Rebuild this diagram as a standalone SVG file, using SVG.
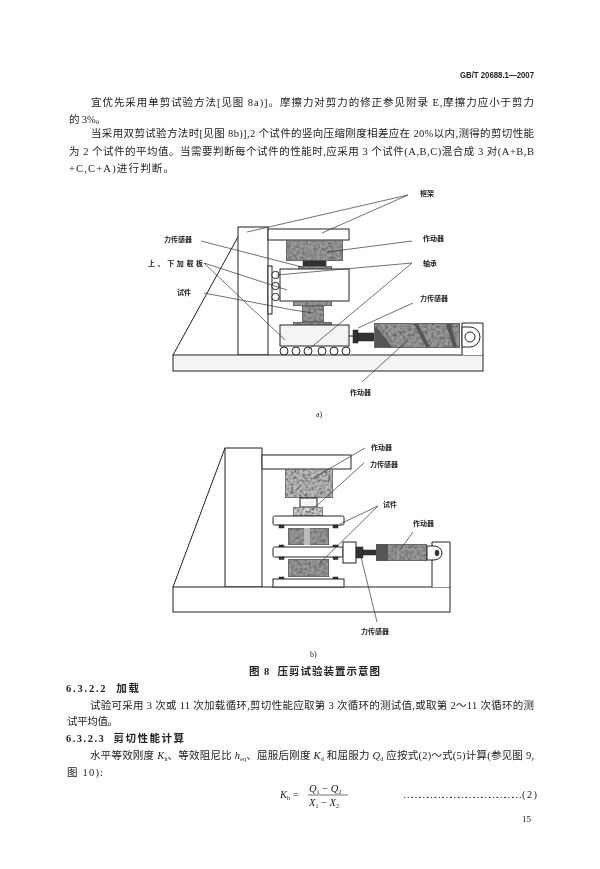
<svg xmlns="http://www.w3.org/2000/svg" width="600" height="869" viewBox="0 0 600 869">
<style>
text{font-family:"Liberation Serif","Noto Sans CJK SC",serif;fill:#222}
.b{font-size:10.5px}
.h{font-size:10.5px;font-weight:700}
.l{font-size:7px;font-weight:700;font-family:"Noto Sans CJK SC",sans-serif}
.s{fill:#fff;stroke:#222;stroke-width:1}
.p{fill:#f4f4f2;stroke:#222;stroke-width:1}
.d{fill:#9a9a9a;stroke:#222;stroke-width:.8;filter:url(#mottle)}
.k{fill:#333;stroke:#222;stroke-width:.5}
.t{fill:#555;stroke:none}
.c{fill:none;stroke:#333;stroke-width:.7}
.i{font-style:italic}
.u{font-size:6px}
.m{font-size:8px}
</style>
<defs>
<filter id="soft" x="0" y="0" width="100%" height="100%"><feGaussianBlur stdDeviation="0.3"/></filter>
<filter id="mottle" x="0" y="0" width="100%" height="100%">
<feTurbulence type="fractalNoise" baseFrequency="0.35" numOctaves="2" seed="4" result="n"/>
<feColorMatrix in="n" type="matrix" values="0 0 0 0 .15  0 0 0 0 .15  0 0 0 0 .15  2.600 0 0 0 -.95" result="g"/>
<feComposite in="g" in2="SourceAlpha" operator="in" result="h"/>
<feMerge><feMergeNode in="SourceGraphic"/><feMergeNode in="h"/></feMerge>
</filter>
</defs>
<rect width="600" height="869" fill="#fff"/>
<g filter="url(#soft)">
<g id="body-text">
<text class="h" x="460" y="78" textLength="74" lengthAdjust="spacingAndGlyphs" style="font-family:'Liberation Sans',sans-serif;font-size:9.5px">GB/T 20688.1—2007</text>
<text class="b" x="91" y="106" textLength="443">宜优先采用单剪试验方法[见图 8a)]。摩擦力对剪力的修正参见附录 E,摩擦力应小于剪力</text>
<text class="b" x="69" y="123" textLength="37">的 3%。</text>
<text class="b" x="91" y="137" textLength="443">当采用双剪试验方法时[见图 8b)],2 个试件的竖向压缩刚度相差应在 20%以内,测得的剪切性能</text>
<text class="b" x="69" y="155" textLength="465">为 2 个试件的平均值。当需要判断每个试件的性能时,应采用 3 个试件(A,B,C)混合成 3 对(A+B,B</text>
<text class="b" x="69" y="172" textLength="105">+C,C+A)进行判断。</text>
<text class="h" x="249" y="675" textLength="131" xml:space="preserve">图 8  压剪试验装置示意图</text>
<text class="h" x="66" y="692" textLength="73" xml:space="preserve">6.3.2.2  加载</text>
<text class="b" x="90" y="709" textLength="444">试验可采用 3 次或 11 次加载循环,剪切性能应取第 3 次循环的测试值,或取第 2～11 次循环的测</text>
<text class="b" x="67" y="725" textLength="51">试平均值。</text>
<text class="h" x="66" y="742" textLength="118" xml:space="preserve">6.3.2.3  剪切性能计算</text>
<text class="b" x="90" y="759" textLength="444">水平等效刚度 <tspan class="i">K</tspan><tspan class="u" dy="2">h</tspan><tspan dy="-2">、等效阻尼比 </tspan><tspan class="i">h</tspan><tspan class="u" dy="2">eq</tspan><tspan dy="-2">、屈服后刚度 </tspan><tspan class="i">K</tspan><tspan class="u" dy="2">d</tspan><tspan dy="-2"> 和屈服力 </tspan><tspan class="i">Q</tspan><tspan class="u" dy="2">d</tspan><tspan dy="-2"> 应按式(2)～式(5)计算(参见图 9,</tspan></text>
<text class="b" x="67" y="776" textLength="36">图 10):</text>
<text class="b" x="280" y="798"><tspan class="i">K</tspan><tspan class="u" dy="2">h</tspan><tspan dy="-2"> =</tspan></text>
<line x1="308" y1="795" x2="348" y2="795" stroke="#333" stroke-width=".7"/>
<text class="b" x="309" y="792"><tspan class="i">Q</tspan><tspan class="u" dy="2">1</tspan><tspan dy="-2"> − </tspan><tspan class="i">Q</tspan><tspan class="u" dy="2">2</tspan></text>
<text class="b" x="309" y="806"><tspan class="i">X</tspan><tspan class="u" dy="2">1</tspan><tspan dy="-2"> − </tspan><tspan class="i">X</tspan><tspan class="u" dy="2">2</tspan></text>
<text class="b" x="403" y="798" textLength="119">………………………………………</text>
<text class="b" x="522" y="798" textLength="15">( 2 )</text>
<text class="b" x="522" y="822" style="font-size:9px">15</text>
</g>

<g id="frame-a"><path class="s" d="M173 355L238.500 236"/><rect class="s" x="238" y="227" width="30" height="128"/><rect class="s" x="268" y="229" width="81" height="11"/></g>
<g id="base-a"><rect class="p" x="173" y="355" width="310" height="16"/></g>
<g id="vertical-actuator-a"><rect class="d" x="286" y="240" width="57" height="21"/></g>
<g id="sensor-a"><rect class="k" x="303" y="261" width="23" height="5"/><rect class="d" x="298" y="266" width="34" height="3.500"/></g>
<g id="upper-block-a"><rect class="s" x="280" y="269" width="69" height="32"/></g>
<g id="specimen-a"><rect class="d" x="293" y="301" width="39" height="5"/><rect class="d" x="302" y="306" width="22" height="16"/><rect class="d" x="293" y="322" width="39" height="3.500"/></g>
<g id="lower-block-a"><rect class="p" x="280" y="325" width="69" height="21"/></g>
<g id="side-bearing-a"><rect class="s" x="268" y="266" width="4" height="48"/><circle class="s" cx="275.500" cy="275" r="3.700"/><circle class="s" cx="275.500" cy="286" r="3.700"/><circle class="s" cx="275.500" cy="297" r="3.700"/></g>
<g id="bearing-a"><circle class="s" cx="284" cy="351" r="4"/><circle class="s" cx="296" cy="351" r="4"/><circle class="s" cx="308" cy="351" r="4"/><circle class="s" cx="322" cy="351" r="4"/><circle class="s" cx="334" cy="351" r="4"/><circle class="s" cx="346" cy="351" r="4"/></g>
<g id="horizontal-actuator-a"><line x1="349" y1="336" x2="353" y2="336" stroke="#222"/><rect class="k" x="353" y="330" width="5" height="13"/><rect class="k" x="358" y="333" width="16" height="8"/><rect class="d" x="374" y="323" width="86" height="25"/><path class="t" d="M376 326L392 347H375V328ZM414 324L418 324L430 347L426 347ZM446 324L451 324L457 347L453 347Z"/></g>
<g id="clevis-a"><path class="s" d="M462 355V323H483V355"/><path class="s" d="M462 327H470A10 10 0 0 1 470 347H462Z"/><circle class="s" cx="470" cy="337" r="5"/></g>

<g id="frame-b"><path class="s" d="M173 587L225 448"/><rect class="s" x="225" y="448" width="37" height="139"/><rect class="s" x="262" y="455" width="89" height="14"/></g>
<g id="base-b"><rect class="s" x="173" y="587" width="277" height="25"/></g>
<g id="vertical-actuator-b"><rect class="d" x="285" y="469" width="48" height="29" style="fill:#bcbcbc"/></g>
<g id="sensor-b"><rect class="p" x="300" y="498" width="17" height="9"/><rect class="d" x="293" y="507" width="30" height="9" style="fill:#d8d8d8"/></g>
<g id="plate-1-b"><rect class="s" x="273" y="516" width="71" height="9" rx="1.500"/></g>
<g id="specimen-1-b"><rect class="d" x="288" y="528" width="41" height="17"/><rect class="t" x="304" y="528" width="6" height="17" style="fill:#bbb"/><rect class="k" x="279" y="525" width="5" height="3"/><rect class="k" x="333" y="525" width="5" height="3"/><rect class="k" x="279" y="545" width="5" height="2.500"/><rect class="k" x="333" y="545" width="5" height="2.500"/></g>
<g id="plate-2-b"><rect class="s" x="273" y="547" width="70" height="10" rx="1.500"/></g>
<g id="specimen-2-b"><rect class="d" x="288" y="559" width="41" height="18"/><rect class="k" x="279" y="557" width="5" height="2.500"/><rect class="k" x="333" y="557" width="5" height="2.500"/><rect class="k" x="279" y="577" width="5" height="2.500"/><rect class="k" x="333" y="577" width="5" height="2.500"/></g>
<g id="plate-3-b"><rect class="s" x="273" y="579" width="71" height="8"/></g>
<g id="horizontal-actuator-b"><rect class="s" x="343" y="542" width="13" height="21"/><rect class="k" x="356" y="547" width="7" height="11"/><rect class="k" x="363" y="550" width="13" height="5"/><rect class="d" x="376" y="544" width="51" height="17"/><rect class="t" x="376" y="544" width="12" height="17" style="fill:#555"/></g>
<g id="support-b"><path class="s" d="M432 587V542H450V587"/><path class="s" d="M427 546H434A8 7 0 0 1 434 560H427Z"/><ellipse class="k" cx="437" cy="553" rx="2" ry="3"/></g>

<g id="connectors">
<path class="c" d="M408 195L247 232M408 195L322 233M412 241L327 252M201 241L302 267M204 263L287 290M204 263L285 340M204 293L293 310L313 313M412 263L277 275M412 263L308 350M413 303L358 328M362 382L408 340"/>
<path class="c" d="M365 448L315 477M364 463L312 510M378 506L340 524M378 506L318 565M413 532L400 550M377 622L361 557"/>
</g>

<g id="labels">
<text class="l" x="420" y="196">框架</text>
<text class="l" x="423" y="241">作动器</text>
<text class="l" x="164" y="241.500">力传感器</text>
<text class="l" x="148" y="265.500" textLength="55">上、下加载板</text>
<text class="l" x="423" y="265.500">轴承</text>
<text class="l" x="177" y="295">试件</text>
<text class="l" x="420" y="301">力传感器</text>
<text class="l" x="350" y="394.500">作动器</text>
<text class="m" x="316" y="417">a)</text>
<text class="l" x="371" y="449.500">作动器</text>
<text class="l" x="370" y="466.500">力传感器</text>
<text class="l" x="383" y="506.500">试件</text>
<text class="l" x="413" y="526">作动器</text>
<text class="l" x="361" y="633.500">力传感器</text>
<text class="m" x="310" y="657">b)</text>
</g>
</g>
</svg>
